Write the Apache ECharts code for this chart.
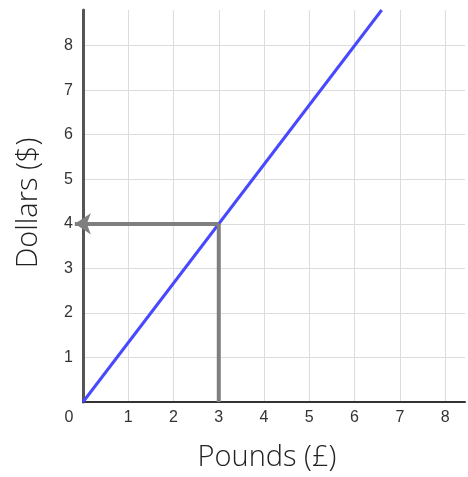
<!DOCTYPE html>
<html><head><meta charset="utf-8">
<script src="https://cdn.jsdelivr.net/npm/echarts@6/dist/echarts.min.js"></script>
<style>html,body{margin:0;padding:0;background:#fff}#c{width:468px;height:477px}</style>
</head><body><div id="c"></div>
<script>
const xTicks = [0,1,2,3,4,5,6,7,8];
const yTicks = [0,1,2,3,4,5,6,7,8];
const xMax = 8.44, yMax = 8.8;
const conversionLine = [[0,0],[6.6,8.8]];
const readOffPath = [[3,0],[3,4]];
const arrowFrom = [3,4], arrowTo = [-0.18,4];
const xTitle = 'Pounds (£)', yTitle = 'Dollars ($)';

const chart = echarts.init(document.getElementById('c'));
const lab = {fontFamily:'Liberation Sans, Arial, sans-serif', fontSize:16, color:'#333'};
const titleStyle = {fontFamily:'Open Sans', fontWeight:300, fontSize:29, color:'#222'};
chart.setOption({
  animation:false,
  grid:{left:83, top:10, right:0, bottom:74, containLabel:false},
  xAxis:{type:'value', min:0, max:xMax, interval:1,
    name:xTitle, nameLocation:'middle', nameGap:41,
    nameTextStyle:Object.assign({padding:[0,14,0,0]}, titleStyle),
    axisLine:{lineStyle:{color:'#333', width:2}},
    axisTick:{show:false},
    axisLabel:Object.assign({margin:8,
      formatter:v=> xTicks.includes(v) ? (v===0?'{o|0}':String(v)) : '',
      rich:{o:Object.assign({padding:[0,28,0,0]}, lab)}}, lab),
    splitLine:{showMaxLine:false, lineStyle:{color:'#dcdcdc', width:1}}},
  yAxis:{type:'value', min:0, max:yMax, interval:1,
    name:yTitle, nameLocation:'middle', nameGap:40, nameRotate:90,
    nameTextStyle:Object.assign({padding:[0,0,0,6]}, titleStyle),
    axisLine:{lineStyle:{color:'#555', width:3}},
    axisTick:{show:false},
    axisLabel:Object.assign({margin:10,
      formatter:v=> (yTicks.includes(v) && v!==0) ? String(v) : ''}, lab),
    splitLine:{showMaxLine:false, lineStyle:{color:'#dcdcdc', width:1}}},
  series:[
    {type:'line', data:conversionLine, showSymbol:false, symbol:'none',
     lineStyle:{color:'#4848ff', width:3}, clip:false, z:3},
    {type:'line', data:readOffPath, showSymbol:false, symbol:'none',
     lineStyle:{color:'#7f7f7f', width:4}, clip:false, z:4},
    {type:'lines', coordinateSystem:'cartesian2d', clip:false, z:5,
     symbol:['none','arrow'], symbolSize:[17,16],
     lineStyle:{color:'#7f7f7f', width:4, opacity:1},
     data:[{coords:[arrowFrom, arrowTo]}]}
  ]
});
</script></body></html>
